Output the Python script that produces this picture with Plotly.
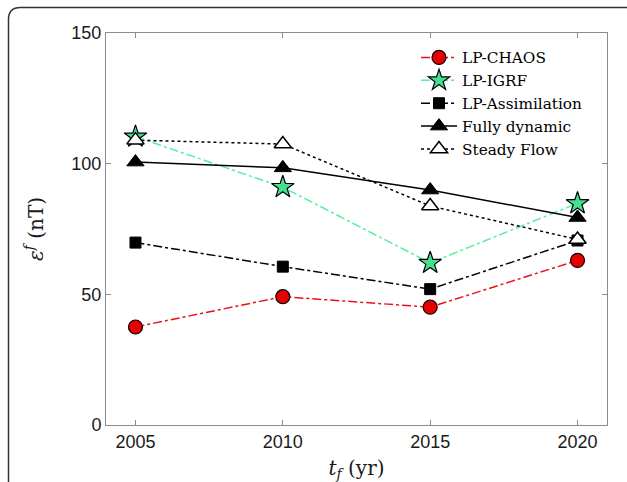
import plotly.graph_objects as go

years = [2005, 2010, 2015, 2020]
lp_chaos = [37.5, 49.1, 45.1, 63.0]
lp_igrf = [110.3, 91.0, 62.0, 84.8]
lp_assim = [69.8, 60.6, 52.0, 70.6]
fully_dynamic = [100.6, 98.4, 89.9, 79.4]
steady_flow = [109.0, 107.5, 83.8, 71.0]

x_ticks = [2005, 2010, 2015, 2020]
y_ticks = [0, 50, 100, 150]

W, H = 627, 482
L, R, T, B = 106, 20, 33, 57
pw, ph = W - L - R, H - T - B

def px(xp):
    return (xp - L) / pw

def py(yp):
    return (H - B - yp) / ph

fig = go.Figure()

serif = "DejaVu Serif, Liberation Serif, serif"
sans = "Liberation Sans, Arial, sans-serif"

fig.add_trace(go.Scatter(
    x=years, y=lp_chaos, name="LP-CHAOS", mode="lines+markers",
    line=dict(color="#e8121a", width=1.5, dash="dashdot"),
    marker=dict(symbol="circle", size=14, color="#e60000", line=dict(color="black", width=1.2))))
fig.add_trace(go.Scatter(
    x=years, y=lp_igrf, name="LP-IGRF", mode="lines+markers",
    line=dict(color="#55f0a0", width=1.5, dash="dashdot"),
    marker=dict(symbol="star", size=17, color="#45e08f", line=dict(color="black", width=1.2))))
fig.add_trace(go.Scatter(
    x=years, y=lp_assim, name="LP-Assimilation", mode="lines+markers",
    line=dict(color="black", width=1.5, dash="dashdot"),
    marker=dict(symbol="square", size=11, color="black", line=dict(color="black", width=1))))
fig.add_trace(go.Scatter(
    x=years, y=fully_dynamic, name="Fully dynamic", mode="lines+markers",
    line=dict(color="black", width=1.5, dash="solid"),
    marker=dict(symbol="triangle-up", size=15, color="black", line=dict(color="black", width=1))))
fig.add_trace(go.Scatter(
    x=years, y=steady_flow, name="Steady Flow", mode="lines+markers",
    line=dict(color="black", width=1.5, dash="dot"),
    marker=dict(symbol="triangle-up", size=15, color="white", line=dict(color="black", width=1.5))))

# rounded outer frame (extends past right and bottom edges)
fx0, fy0, fx1, fy1, rr = 8.5, 7.5, 650, 520, 12
path = (f"M {px(fx0)},{py(fy0 + rr)} "
        f"Q {px(fx0)},{py(fy0)} {px(fx0 + rr)},{py(fy0)} "
        f"L {px(fx1)},{py(fy0)} "
        f"M {px(fx0)},{py(fy0 + rr)} L {px(fx0)},{py(fy1)}")
fig.add_shape(type="path", path=path, xref="paper", yref="paper",
              line=dict(color="#333333", width=1.5), layer="above")

axis_common = dict(
    showline=True, linecolor="#8c8c8c", linewidth=1, mirror="ticks",
    ticks="inside", ticklen=5, tickcolor="#8c8c8c", tickwidth=1,
    showgrid=False, zeroline=False,
    tickfont=dict(family=sans, size=18, color="#1a1a1a"),
)

fig.update_layout(
    width=W, height=H,
    margin=dict(l=L, r=R, t=T, b=B, autoexpand=False),
    paper_bgcolor="white", plot_bgcolor="white",
    showlegend=True,
    legend=dict(x=px(416), y=py(41), xanchor="left", yanchor="top",
                bgcolor="rgba(255,255,255,0)", borderwidth=0,
                font=dict(family=serif, size=15.3, color="black"),
                itemwidth=36),
    xaxis=dict(range=[2004, 2021], tickvals=x_ticks, ticktext=[str(v) for v in x_ticks],
               title=dict(text="<i>t</i><sub><i>f</i></sub> (yr)",
                          font=dict(family=serif, size=20, color="#1a1a1a"), standoff=10),
               automargin=False, **axis_common),
    yaxis=dict(range=[0, 150], tickvals=y_ticks, ticktext=[str(v) for v in y_ticks],
               title=dict(text="<i>ε</i><sup><i>f</i></sup> (nT)",
                          font=dict(family=serif, size=20, color="#1a1a1a"), standoff=22),
               automargin=False, **axis_common),
)

fig.write_html("out.html")
